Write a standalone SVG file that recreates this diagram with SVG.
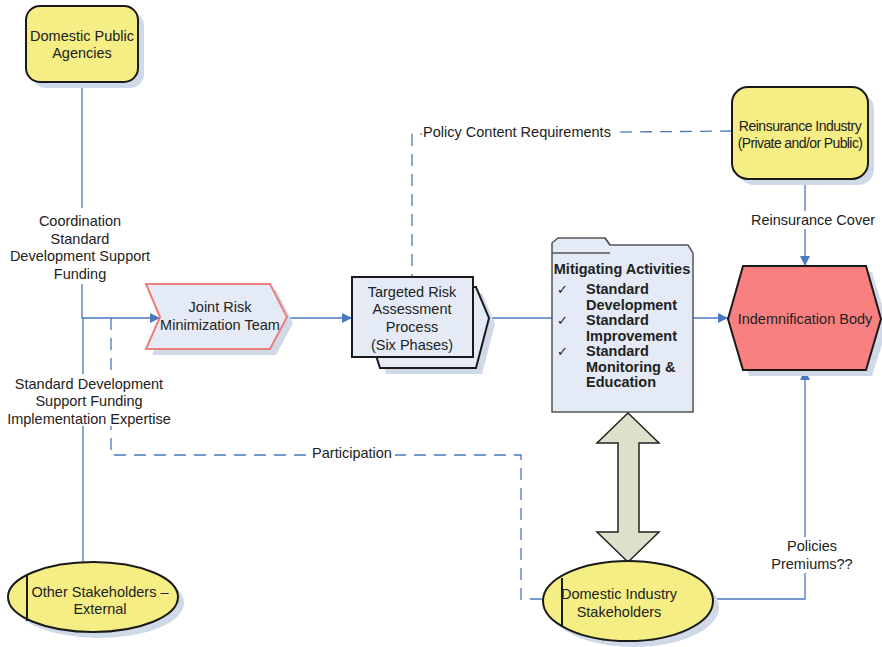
<svg xmlns="http://www.w3.org/2000/svg" width="882" height="647" viewBox="0 0 882 647">
<defs>
<marker id="ah" viewBox="0 0 10 10" refX="10" refY="5" markerWidth="10" markerHeight="10" markerUnits="userSpaceOnUse" orient="auto">
<path d="M0,0 L10,5 L0,10 z" fill="#4a78c0"/>
</marker>
<style>
text{font-family:"Liberation Sans",Arial,sans-serif;font-size:14.5px;fill:#222;}
.c{text-anchor:middle;}
.b{font-weight:bold;font-size:14.5px;}
.ln{fill:none;stroke:#4a78c0;stroke-width:1.3;}
.dash{stroke-dasharray:12 8;}
.sh{fill:#cfd9e7;stroke:none;}
.yel{fill:#f5ee84;stroke:#1a1a1a;stroke-width:2;}
.blu{fill:#e4ebf6;stroke:#1a1a1a;stroke-width:2;}
</style>
</defs>
<rect width="882" height="647" fill="#fff"/>

<g id="connectors">
<polyline class="ln" points="82,82 82,318 160,318" marker-end="url(#ah)"/>
<polyline class="ln" points="83,318 83,562"/>
<polyline class="ln dash" points="111,318 111,455 521,455 521,599 543,599"/>
<line class="ln" x1="287" y1="318" x2="352" y2="318" marker-end="url(#ah)"/>
<line class="ln" x1="473" y1="318" x2="552" y2="318"/>
<line class="ln" x1="693" y1="318" x2="728" y2="318" marker-end="url(#ah)"/>
<polyline class="ln dash" points="732,131 412,134 412,277"/>
<line class="ln" x1="805" y1="180" x2="805" y2="266" marker-end="url(#ah)"/>
<polyline class="ln" points="712,599 805,599 805,370" marker-end="url(#ah)"/>
<rect x="5" y="208" width="152" height="76" fill="#fff"/>
<text class="c" x="80" y="226">Coordination</text>
<text class="c" x="80" y="244">Standard</text>
<text class="c" x="80" y="261">Development Support</text>
<text class="c" x="80" y="279">Funding</text>
<rect x="4" y="374" width="172" height="52" fill="#fff"/>
<text class="c" x="89" y="389">Standard Development</text>
<text class="c" x="89" y="406">Support Funding</text>
<text class="c" x="89" y="424">Implementation Expertise</text>
<rect x="311" y="446" width="84" height="16" fill="#fff"/>
<text class="c" x="352" y="458">Participation</text>
<rect x="422" y="124" width="191" height="16" fill="#fff"/>
<text class="c" x="517" y="137">Policy Content Requirements</text>
<rect x="748" y="211" width="130" height="18" fill="#fff"/>
<text class="c" x="813" y="225">Reinsurance Cover</text>
<rect x="768" y="537" width="88" height="36" fill="#fff"/>
<text class="c" x="812" y="551">Policies</text>
<text class="c" x="812" y="569">Premiums??</text>
</g>

<g id="domestic-public-agencies">
<rect class="sh" x="32" y="12" width="112" height="76" rx="14"/>
<rect class="yel" x="26" y="6" width="112" height="76" rx="14"/>
<text class="c" x="82" y="41">Domestic Public</text>
<text class="c" x="82" y="58">Agencies</text>
</g>

<g id="joint-risk-team">
<polygon class="sh" points="152,290 276,290 293,323 276,355 152,355 166,323"/>
<polygon points="146,284 270,284 287,317 270,349 146,349 160,317" fill="#e4ebf6" stroke="#f07c7c" stroke-width="2"/>
<text class="c" x="220" y="312">Joint Risk</text>
<text class="c" x="220" y="330">Minimization Team</text>
</g>

<g id="targeted-risk">
<polygon class="sh" points="386,293 482,293 495,324 482,374 386,374 370,324"/>
<polygon class="blu" points="380,287 476,287 489,318 476,368 380,368 364,318"/>
<rect class="blu" x="352" y="277" width="121" height="80"/>
<text class="c" x="412" y="297">Targeted Risk</text>
<text class="c" x="412" y="314">Assessment</text>
<text class="c" x="412" y="332">Process</text>
<text class="c" x="412" y="350">(Six Phases)</text>
</g>

<g id="mitigating-activities">
<path d="M552,243 L558,238 L605,238 L610,245 L688,245 L693,253 L693,412 L552,412 Z" fill="#e4ebf6" stroke="#555" stroke-width="1.5"/>
<line x1="552" y1="253" x2="610" y2="253" stroke="#555" stroke-width="1.5"/>
<line x1="605" y1="238" x2="610" y2="245" stroke="#555" stroke-width="1.5"/>
<text class="c b" x="622" y="274">Mitigating Activities</text>
<text x="557" y="294" style="font-size:13px">✓</text>
<text class="b" x="586" y="294">Standard</text>
<text class="b" x="586" y="310">Development</text>
<text x="557" y="325" style="font-size:13px">✓</text>
<text class="b" x="586" y="325">Standard</text>
<text class="b" x="586" y="341">Improvement</text>
<text x="557" y="356" style="font-size:13px">✓</text>
<text class="b" x="586" y="356">Standard</text>
<text class="b" x="586" y="372">Monitoring &amp;</text>
<text class="b" x="586" y="387">Education</text>
</g>

<g id="double-arrow">
<polygon points="628,413 659,443 639,443 639,532 659,532 628,562 597,532 618,532 618,443 597,443" fill="#dde1cb" stroke="#222" stroke-width="1.5"/>
</g>

<g id="reinsurance-industry">
<rect class="sh" x="738" y="93" width="136" height="92" rx="16"/>
<rect class="yel" x="732" y="87" width="136" height="92" rx="16"/>
<text class="c" x="800" y="131" style="font-size:14px;letter-spacing:-0.5px">Reinsurance Industry</text>
<text class="c" x="800" y="148" style="font-size:14px;letter-spacing:-0.6px">(Private and/or Public)</text>
</g>

<g id="indemnification-body">
<polygon class="sh" points="749,272 872,272 888,325 872,376 749,376 734,325"/>
<polygon points="743,266 866,266 881,319 866,370 743,370 728,319" fill="#f98080" stroke="#1a1a1a" stroke-width="2"/>
<text class="c" x="805" y="324">Indemnification Body</text>
</g>

<g id="other-stakeholders">
<ellipse class="sh" cx="99" cy="603" rx="85" ry="35"/>
<ellipse class="yel" cx="93" cy="597" rx="85" ry="35"/>
<line x1="27" y1="575" x2="27" y2="621" stroke="#1a1a1a" stroke-width="2"/>
<text class="c" x="100" y="597">Other Stakeholders –</text>
<text class="c" x="100" y="614">External</text>
</g>

<g id="domestic-industry">
<ellipse class="sh" cx="634" cy="607" rx="85" ry="40"/>
<ellipse class="yel" cx="628" cy="601" rx="85" ry="40"/>
<line x1="562" y1="578" x2="562" y2="626" stroke="#1a1a1a" stroke-width="2"/>
<text class="c" x="619" y="599">Domestic Industry</text>
<text class="c" x="619" y="617">Stakeholders</text>
</g>
</svg>
